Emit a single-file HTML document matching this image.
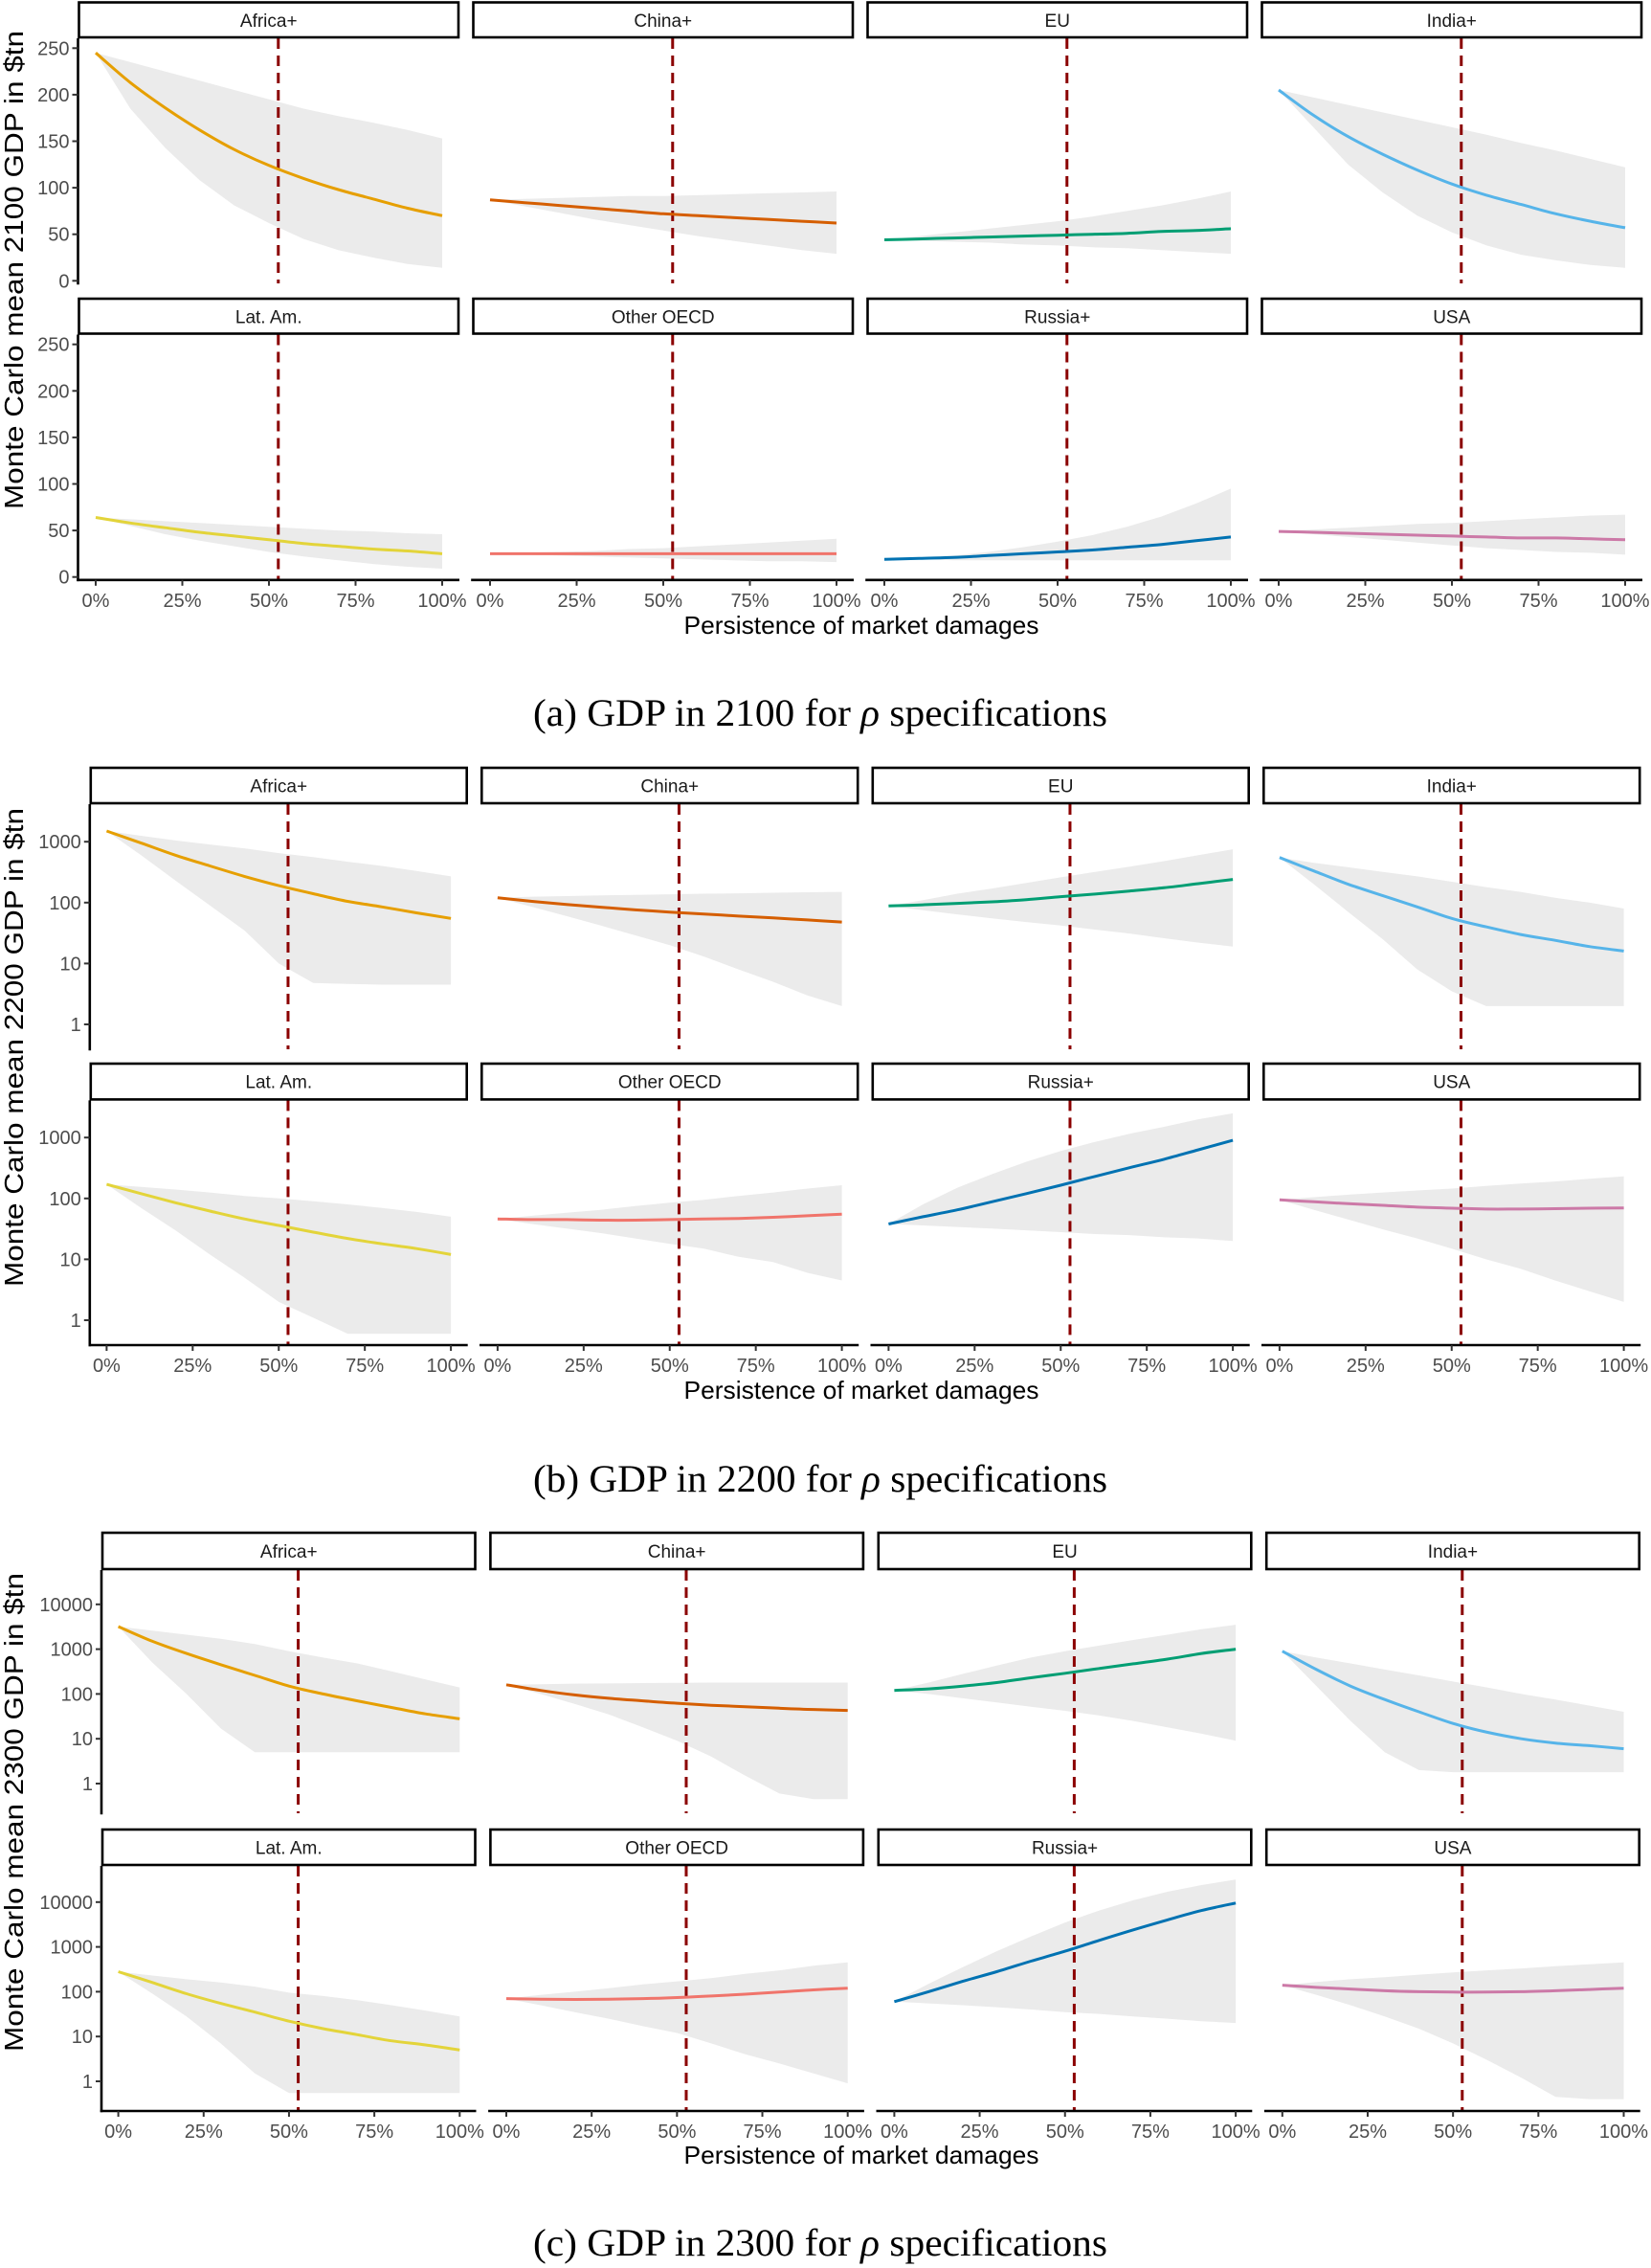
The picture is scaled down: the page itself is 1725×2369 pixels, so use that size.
<!DOCTYPE html>
<html><head><meta charset="utf-8">
<style>
html,body{margin:0;padding:0;background:#fff;}
svg{display:block;}
text{font-family:"Liberation Sans",sans-serif;}
.cap{font-family:"Liberation Serif",serif;}
</style></head>
<body>
<svg id="fig" width="1725" height="2369" viewBox="0 0 1725 2369" xmlns="http://www.w3.org/2000/svg"></svg>
<script>
// Data arrays (x = persistence 0..100% in 10% steps)
const xs = [0,10,20,30,40,50,60,70,80,90,100];
const regions = ["Africa+","China+","EU","India+","Lat. Am.","Other OECD","Russia+","USA"];
const colors = ["#e69f00","#d55e00","#009e73","#56b4e9","#e3d43a","#f0746b","#0072b2","#cc79a7"];
const xTickLabels = ["0%","25%","50%","75%","100%"];
const xTickVals = [0,25,50,75,100];
const refLine = 52.7;

// 2100 (linear)
const meanA = [
 [245,213,186,162,141,124,110,98,88,78,70],
 [87,84,81,78,75,72,70,68,66,64,62],
 [44,45,46,47,48,49,50,51,53,54,56],
 [205,178,155,136,119,104,92,82,72,64,57],
 [64,58,53,48,44,40,36,33,30,28,25],
 [25,25,25,25,25,25,25,25,25,25,25],
 [19,20,21,23,25,27,29,32,35,39,43],
 [49,48,47,46,45,44,43,42,42,41,40]];
const hiA = [
 [245,235,225,215,205,195,185,177,170,162,153],
 [87,88,89,90,91,91,92,93,94,95,96],
 [44,48,52,56,60,64,69,75,81,88,96],
 [205,197,189,181,173,165,157,148,140,131,122],
 [64,62,60,58,56,54,52,50,49,47,46],
 [25,26,27,28,30,31,33,35,37,39,41],
 [19,21,23,27,32,38,45,54,65,79,95],
 [49,51,53,55,57,58,60,62,64,66,67]];
const loA = [
 [245,185,143,108,81,62,45,33,25,18,14],
 [87,80,73,66,60,54,48,43,38,33,29],
 [44,43,42,41,39,38,36,35,33,31,29],
 [205,165,125,95,70,52,38,28,22,17,14],
 [64,55,46,39,33,27,22,18,14,11,9],
 [25,24,23,22,21,20,19,18,17,17,16],
 [19,19,18,18,18,18,18,18,18,18,18],
 [49,46,43,40,37,34,31,29,27,26,24]];
const yTicksA = [0,50,100,150,200,250];

// 2200 (log)
const meanB = [
 [1500,950,600,400,270,190,140,105,85,68,55],
 [120,105,93,84,76,70,65,60,56,52,48],
 [88,92,97,103,112,125,138,155,175,205,240],
 [550,330,200,130,85,55,40,30,24,19,16],
 [170,120,85,62,46,36,28,22,18,15,12],
 [46,45,45,44,44,45,46,47,49,52,55],
 [38,50,65,88,120,165,230,320,440,630,900],
 [95,88,82,77,72,69,67,67,68,69,70]];
const hiB = [
 [1500,1250,1050,900,780,650,560,470,400,330,270],
 [120,125,128,131,134,137,140,142,145,148,150],
 [88,110,140,170,210,260,320,390,480,600,750],
 [550,450,380,320,270,220,180,150,120,100,80],
 [170,155,140,125,110,100,90,80,70,60,50],
 [46,52,58,65,75,85,95,110,125,145,165],
 [38,80,150,250,400,600,850,1150,1500,2000,2500],
 [95,105,115,125,135,145,160,175,190,210,230]];
const loB = [
 [1500,600,230,90,35,10,4.8,4.6,4.5,4.5,4.5],
 [120,85,60,42,29,20,13,8,5,3,2],
 [88,75,64,55,48,42,36,31,26,22,19],
 [550,200,70,25,8,3.5,2,2,2,2,2],
 [170,70,30,12,5,2,1.1,0.6,0.6,0.6,0.6],
 [46,38,32,27,22,18,15,11,9,6,4.5],
 [38,36,34,32,30,28,26,25,23,22,20],
 [95,65,45,31,22,15,10,7,4.5,3,2]];
const yTicksB = [1,10,100,1000];

// 2300 (log)
const meanC = [
 [3200,1500,800,450,260,150,100,70,50,36,28],
 [160,120,95,80,70,62,56,52,48,45,43],
 [120,130,150,180,230,290,370,470,600,800,1000],
 [900,350,150,75,40,22,14,10,8,7,6],
 [280,160,90,55,35,22,15,11,8,6.5,5],
 [70,68,67,68,70,74,80,88,98,110,120],
 [60,100,170,280,480,800,1400,2400,4000,6500,9500],
 [140,125,115,105,100,98,98,100,105,112,120]];
const hiC = [
 [3200,2600,2100,1700,1300,900,650,480,320,210,140],
 [160,165,170,172,175,178,180,180,180,180,180],
 [120,180,280,430,650,900,1200,1600,2100,2800,3500],
 [900,650,480,350,260,190,140,100,75,55,40],
 [280,230,190,160,130,95,80,65,50,38,28],
 [70,85,100,120,145,170,200,250,300,380,450],
 [60,150,350,800,1700,3500,6500,11000,17000,24000,32000],
 [140,165,190,210,240,270,300,330,370,410,450]];
const loC = [
 [3200,500,100,17,5,5,5,5,5,5,5],
 [160,100,60,35,18,9,4,1.5,0.6,0.45,0.45],
 [120,100,80,65,52,42,33,25,18,13,9],
 [900,150,25,5,2,1.8,1.8,1.8,1.8,1.8,1.8],
 [280,90,28,7,1.5,0.55,0.55,0.55,0.55,0.55,0.55],
 [70,50,35,25,17,12,7,4,2.5,1.5,0.9],
 [60,55,50,45,40,35,32,28,25,22,20],
 [140,85,50,28,15,7,3,1.2,0.45,0.4,0.4]];
const yTicksC = [1,10,100,1000,10000];

const NS = "http://www.w3.org/2000/svg";
const svg = document.getElementById("fig");
function mk(tag, attrs, parent){
  const e = document.createElementNS(NS, tag);
  for (const k in attrs) e.setAttribute(k, attrs[k]);
  (parent||svg).appendChild(e);
  return e;
}
function smoothPath(pts){
  let d = "M" + pts[0][0].toFixed(1) + "," + pts[0][1].toFixed(1);
  for (let i = 0; i < pts.length-1; i++) {
    const p0 = pts[Math.max(0,i-1)], p1 = pts[i], p2 = pts[i+1], p3 = pts[Math.min(pts.length-1,i+2)];
    const c1x = p1[0] + (p2[0]-p0[0])/6, c1y = p1[1] + (p2[1]-p0[1])/6;
    const c2x = p2[0] - (p3[0]-p1[0])/6, c2y = p2[1] - (p3[1]-p1[1])/6;
    d += "C" + c1x.toFixed(1)+","+c1y.toFixed(1)+" "+c2x.toFixed(1)+","+c2y.toFixed(1)+" "+p2[0].toFixed(1)+","+p2[1].toFixed(1);
  }
  return d;
}

const sections = [
 {id:"a", year:"2100", log:false, mean:meanA, hi:hiA, lo:loA, ticks:yTicksA,
  rows:[{st:1.5,sb:40,pb:296,y0:293.3},{st:311,sb:349.5,pb:605.8,y0:602.7}],
  k:243/250, axL:81.5, p0:100, p100:462, right:480, step:412,
  xt:653, cap:745, capLetter:"(a)", ytc:282},
 {id:"b", year:"2200", log:true, mean:meanB, hi:hiB, lo:loB, ticks:yTicksB,
  rows:[{st:801,sb:840,pb:1096,y0:1070},{st:1110,sb:1149.4,pb:1405,y0:1379}],
  k:63.6, axL:93.8, p0:111.4, p100:471.1, right:488.7, step:408.5,
  xt:1452, cap:1545, capLetter:"(b)", ytc:1094},
 {id:"c", year:"2300", log:true, mean:meanC, hi:hiC, lo:loC, ticks:yTicksC,
  rows:[{st:1600,sb:1640,pb:1894,y0:1863},{st:1910,sb:1949,pb:2205,y0:2174}],
  k:46.8, axL:106, p0:123.6, p100:480.3, right:497.5, step:405.4,
  xt:2251, cap:2343, capLetter:"(c)", ytc:1893}
];

sections.forEach(S => {
  const g = mk("g", {});
  
  
  const yf = (row, v) => S.log ? row.y0 - S.k*Math.log10(v) : row.y0 - S.k*v;
  for (let r = 0; r < 8; r++) {
    const ri = Math.floor(r/4), ci = r % 4;
    const row = S.rows[ri];
    const off = ci*S.step;
    const xf = p => S.p0 + off + (S.p100 - S.p0)*p/100;
    const left = S.axL + off, right = S.right + off;
    const slug = regions[r].toLowerCase().replace(/[^a-z]+/g,'-').replace(/-$/,'');
    const pg = mk("g", {}, g);
    
    
    let d = "";
    xs.forEach((x,i)=>{ d += (i?"L":"M") + xf(x).toFixed(1) + "," + yf(row,S.hi[r][i]).toFixed(1); });
    for (let i = xs.length-1; i >= 0; i--) d += "L" + xf(xs[i]).toFixed(1) + "," + yf(row,S.lo[r][i]).toFixed(1);
    const rib = mk("path", {d:d+"Z", fill:"#ebebeb"}, pg);
    
    
    const rl = mk("line", {x1:xf(refLine), x2:xf(refLine), y1:row.sb, y2:row.pb, stroke:"#8b0000", "stroke-width":3, "stroke-dasharray":"11,7"}, pg);
    
    
    const pts = xs.map((x,i)=>[xf(x), yf(row,S.mean[r][i])]);
    const ml = mk("path", {d:smoothPath(pts), fill:"none", stroke:colors[r], "stroke-width":3}, pg);
    
    
    const sr = mk("rect", {x:left+1, y:row.st+1, width:right-left-2, height:row.sb-row.st-2, fill:"#fff", stroke:"#000", "stroke-width":2.6}, pg);
    
    
    const st = mk("text", {x:(left+right)/2, y:(row.st+row.sb)/2+7, "text-anchor":"middle", "font-size":19, fill:"#1a1a1a"}, pg);
    st.textContent = regions[r];
    
    
    if (ci === 0) {
      const ya = mk("line", {x1:left, x2:left, y1:row.sb, y2:row.pb+1.3, stroke:"#000", "stroke-width":2.6}, pg);
      
      
      S.ticks.forEach(t => {
        const y = yf(row, t);
        mk("line", {x1:left-6, x2:left, y1:y, y2:y, stroke:"#333", "stroke-width":2}, pg);
        const tl = mk("text", {x:left-9, y:y+7, "text-anchor":"end", "font-size":20, fill:"#4d4d4d"}, pg);
        tl.textContent = String(t);
        
        
      });
    }
    if (ri === 1) {
      const xa = mk("line", {x1:left-1.3, x2:right, y1:row.pb, y2:row.pb, stroke:"#000", "stroke-width":2.6}, pg);
      
      
      xTickVals.forEach((t,i) => {
        const x = xf(t);
        mk("line", {x1:x, x2:x, y1:row.pb, y2:row.pb+6, stroke:"#333", "stroke-width":2}, pg);
        const tl = mk("text", {x:x, y:row.pb+28, "text-anchor":"middle", "font-size":20, fill:"#4d4d4d"}, pg);
        tl.textContent = xTickLabels[i];
        
        
      });
    }
  }
  const xt = mk("text", {x:900, y:S.xt+9, "text-anchor":"middle", "font-size":26, fill:"#000", textLength:371, lengthAdjust:"spacingAndGlyphs"}, g);
  xt.textContent = "Persistence of market damages";
  
  
  const yt = mk("text", {x:0, y:0, "text-anchor":"middle", "font-size":28, fill:"#000", textLength:500, lengthAdjust:"spacingAndGlyphs", transform:"translate(24,"+S.ytc+") rotate(-90)"}, g);
  yt.textContent = "Monte Carlo mean " + S.year + " GDP in $tn";
  
  
  const cp = mk("text", {x:857, y:S.cap+13, "text-anchor":"middle", "font-size":40, fill:"#000", "class":"cap", textLength:600, lengthAdjust:"spacingAndGlyphs"}, g);
  cp.innerHTML = S.capLetter + " GDP in " + S.year + " for <tspan font-style=\"italic\">ρ</tspan> specifications";
  
  
});
</script>
</body></html>
